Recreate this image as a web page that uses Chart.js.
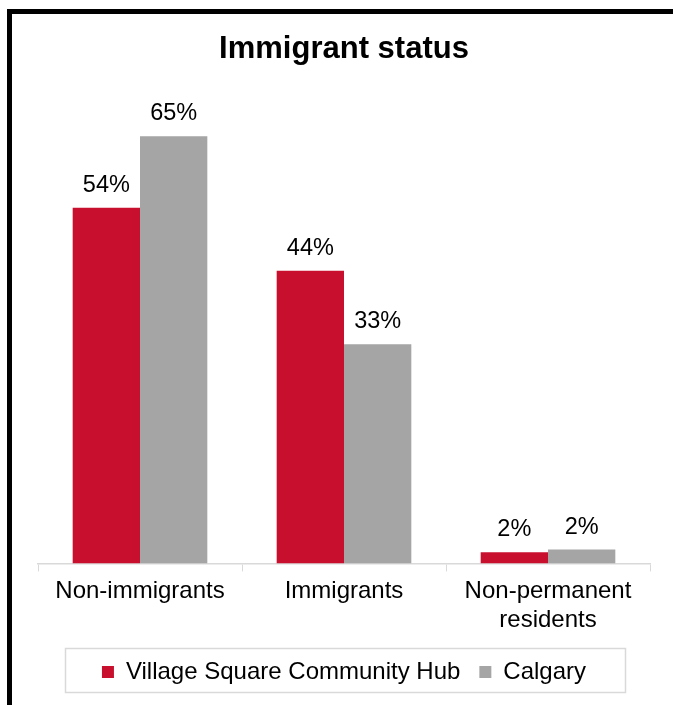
<!DOCTYPE html>
<html><head><meta charset="utf-8">
<script src="https://cdn.jsdelivr.net/npm/chart.js@4/dist/chart.umd.min.js"></script>
<style>html,body{margin:0;padding:0;background:#fff}#wrap{width:673px;height:705px;position:relative}</style>
</head><body><div id="wrap"><canvas id="c" width="673" height="705"></canvas></div>
<script>
const categories = ['Non-immigrants', 'Immigrants', ['Non-permanent', 'residents']];
const seriesNames = ['Village Square Community Hub', 'Calgary'];
const hubValues = [54.2, 44.6, 1.7];
const calgaryValues = [65.1, 33.4, 2.1];
const hubLabels = ['54%', '44%', '2%'];
const calgaryLabels = ['65%', '33%', '2%'];

const FONT = '"Liberation Sans", Arial, sans-serif';

const framePlugin = {
  id: 'frame',
  beforeDraw(chart) {
    const ctx = chart.ctx;
    ctx.save();
    ctx.fillStyle = '#000';
    ctx.fillRect(7, 9, 673, 5);
    ctx.fillRect(7, 9, 5, 705);
    ctx.restore();
  },
  afterDraw(chart) {
    const ctx = chart.ctx;
    ctx.save();
    ctx.font = '23.5px ' + FONT;
    ctx.fillStyle = '#000';
    ctx.textAlign = 'center';
    ctx.textBaseline = 'alphabetic';
    const labelSets = [hubLabels, calgaryLabels];
    chart.data.datasets.forEach((ds, di) => {
      chart.getDatasetMeta(di).data.forEach((bar, i) => {
        ctx.fillText(labelSets[di][i], bar.x, bar.y - 16);
      });
    });
    ctx.strokeStyle = '#d9d9d9';
    ctx.lineWidth = 1.5;
    ctx.strokeRect(65.5, 648.5, 560, 44);
    ctx.restore();
  }
};

new Chart(document.getElementById('c'), {
  type: 'bar',
  data: {
    labels: categories,
    datasets: [
      { label: seriesNames[0], data: hubValues, backgroundColor: '#C8102E', categoryPercentage: 0.66, barPercentage: 1.0 },
      { label: seriesNames[1], data: calgaryValues, backgroundColor: '#A5A5A5', categoryPercentage: 0.66, barPercentage: 1.0 }
    ]
  },
  options: {
    responsive: false,
    animation: false,
    devicePixelRatio: 1,
    layout: { padding: { left: 38, right: 23, top: 22, bottom: 11 } },
    plugins: {
      title: {
        display: true,
        text: 'Immigrant status',
        color: '#000',
        font: { family: FONT, size: 31, weight: 'bold' },
        padding: { top: 9, bottom: 36 }
      },
      legend: {
        position: 'bottom',
        labels: {
          color: '#000',
          font: { family: FONT, size: 24 },
          boxWidth: 12,
          boxHeight: 12,
          padding: 19
        }
      },
      tooltip: { enabled: false }
    },
    scales: {
      x: {
        grid: { display: true, drawOnChartArea: false, drawTicks: true, tickLength: 8, color: '#d9d9d9', offset: true },
        border: { color: '#d9d9d9', width: 1.5 },
        ticks: { color: '#000', font: { family: FONT, size: 24 }, padding: 6, maxRotation: 0 }
      },
      y: {
        display: false,
        min: 0,
        max: 70
      }
    }
  },
  plugins: [framePlugin]
});
</script>
</body></html>
